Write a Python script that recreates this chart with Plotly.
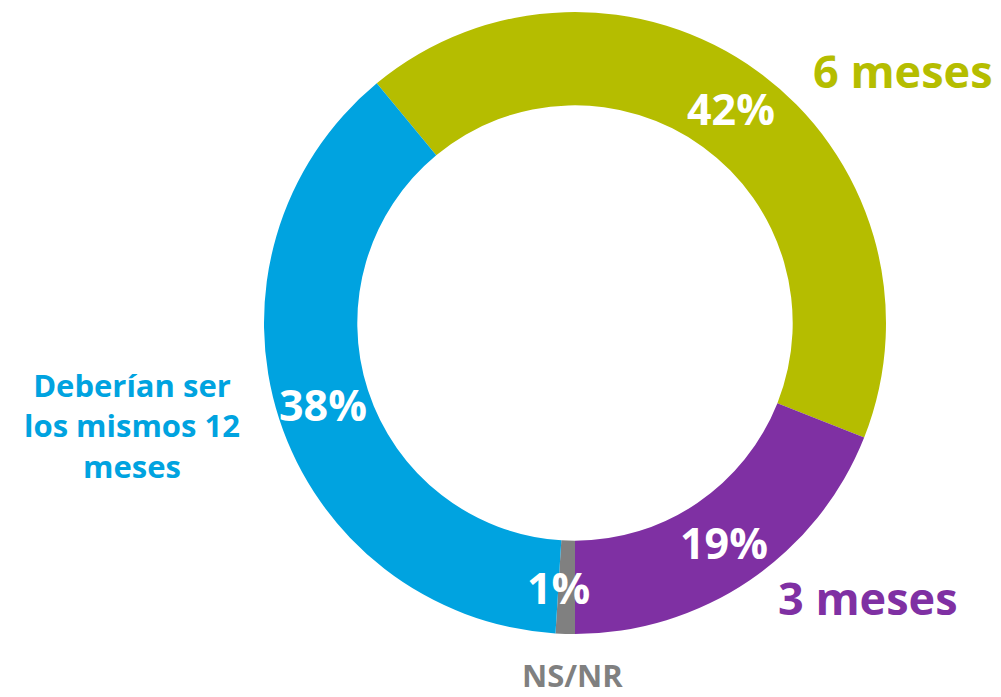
import math
import plotly.graph_objects as go

# datos del gráfico
categorias = ["6 meses", "3 meses", "NS/NR", "Deberían ser<br>los mismos 12<br>meses"]
porcentajes = [42, 19, 1, 38]
colores = ["#b5bd00", "#7f30a3", "#808080", "#00a3e0"]

W, H = 1001, 697
rotacion = -39.6


def px_a_paper(x, y):
    return x / W, 1 - y / H


fig = go.Figure(go.Pie(
    values=porcentajes,
    labels=categorias,
    marker=dict(colors=colores, line=dict(width=0)),
    hole=0.70,
    sort=False,
    direction="clockwise",
    rotation=rotacion,
    textinfo="none",
    hoverinfo="percent",
    showlegend=False,
    domain=dict(x=[264 / W, 886 / W], y=[1 - 634 / H, 1 - 12 / H]),
))

# etiquetas de porcentaje en el centro de cada segmento
cx, cy, r_txt = 575, 323, 265
total = sum(porcentajes)
acum = 0
for v in porcentajes:
    ang = math.radians(rotacion + (acum + v / 2) / total * 360)
    acum += v
    x_px = cx + r_txt * math.sin(ang) - (8 if v < 5 else 0)
    y_px = cy - r_txt * math.cos(ang)
    x, y = px_a_paper(x_px, y_px)
    fig.add_annotation(
        x=x, y=y, xref="paper", yref="paper", xanchor="center", yanchor="middle",
        text=f"<b>{v}%</b>", showarrow=False,
        font=dict(family="Open Sans", size=43, color="white"),
    )

# etiquetas de categoría
pos_etiquetas = [(903, 70, 45), (868, 597, 45), (572, 675, 31), (132, 425, 31)]
for cat, col, (xp, yp, s) in zip(categorias, colores, pos_etiquetas):
    x, y = px_a_paper(xp, yp)
    fig.add_annotation(
        x=x, y=y, xref="paper", yref="paper", xanchor="center", yanchor="middle",
        text=f"<b>{cat}</b>", showarrow=False, align="center",
        font=dict(family="Open Sans", size=s, color=col),
    )

fig.update_layout(
    width=W, height=H,
    margin=dict(l=0, r=0, t=0, b=0),
    paper_bgcolor="white", plot_bgcolor="white",
)

# quitar el margen por defecto del body para que la figura ocupe la ventana
fig.write_html("out.html", config={"displayModeBar": False},
               post_script="document.body.style.margin='0';")
